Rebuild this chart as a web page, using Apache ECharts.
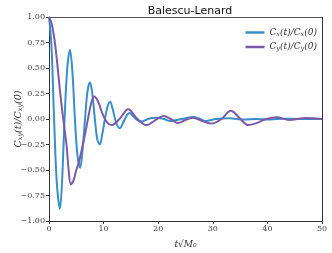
<!DOCTYPE html>
<html><head><meta charset="utf-8">
<script src="https://cdn.jsdelivr.net/npm/echarts@6/dist/echarts.min.js"></script>
<style>html,body{margin:0;padding:0;background:#fff}#c{width:332px;height:253px}</style>
</head><body><div id="c"></div>
<script>
// Data
const tCx = [0,0.45,0.9,1.4,2.0,2.4,2.85,3.35,3.85,4.3,4.75,5.2,5.7,6.15,6.6,7.05,7.5,7.95,8.4,8.85,9.3,9.75,10.25,10.7,11.2,11.65,12.1,12.55,13.0,13.45,13.9,14.35,14.8,15.3,15.9,16.5,17.0,17.9,18.8,19.7,21.0,22.2,23.3,24.4,25.4,26.4,27.5,28.6,30.6,33.1,35.6,38.0,40.5,43.0,46.0,50.0];
const vCx = [1.0,0.72,0.05,-0.6,-0.88,-0.6,0.0,0.5,0.68,0.45,0.0,-0.35,-0.48,-0.3,0.0,0.27,0.36,0.24,0.0,-0.2,-0.25,-0.15,0.0,0.12,0.17,0.1,0.0,-0.07,-0.09,-0.05,0.0,0.045,0.06,0.035,0.0,-0.02,-0.025,-0.005,0.01,0.013,0.0,-0.02,-0.01,0.0,0.012,0.02,0.005,-0.02,0.0,0.007,-0.005,0.0,-0.005,0.003,0.0,0.0];
const tCy = [0,0.5,1.0,1.5,2.0,2.6,3.2,3.6,4.0,4.5,5.0,5.5,6.0,6.6,7.2,7.8,8.3,9.0,9.8,10.6,11.5,12.9,14.5,16.2,17.9,19.5,21.0,22.3,23.6,25.0,26.4,28.1,29.8,31.6,33.3,34.9,36.5,38.0,39.8,41.7,44.0,47.0,50.0];
const vCy = [1.0,0.93,0.78,0.55,0.28,0.0,-0.25,-0.5,-0.64,-0.6,-0.5,-0.42,-0.3,-0.15,0.02,0.17,0.22,0.17,0.05,-0.03,-0.06,0.0,0.095,0.0,-0.06,-0.01,0.03,0.0,-0.04,-0.01,0.013,-0.02,-0.045,0.0,0.08,0.01,-0.06,-0.04,0.0,0.017,-0.01,0.01,0.0];
const xTicks = [0,10,20,30,40,50];
const yTicks = [-1.0,-0.75,-0.5,-0.25,0.0,0.25,0.5,0.75,1.0];

const pair = (t,v) => t.map((x,i)=>[x,v[i]]);
const serif = 'DejaVu Serif';
const sub = {s:{fontFamily:serif, fontStyle:'italic', fontSize:6.5, color:'#333', padding:[3,0,0,0]}};
const chart = echarts.init(document.getElementById('c'), null, {renderer:'canvas'});
chart.setOption({
  animation:false,
  title:{text:'Balescu-Lenard', left:185, top:1, textAlign:'center',
    textStyle:{fontFamily:'DejaVu Sans', fontSize:11, fontWeight:'normal', color:'#111'}},
  grid:{left:49, right:10, top:17, bottom:32, outerBoundsMode:'none', containLabel:false},
  legend:{right:10, top:23, orient:'vertical', itemWidth:19, itemHeight:2.5, itemGap:5, icon:'rect',
    textStyle:{fontFamily:serif, fontStyle:'italic', fontSize:9, color:'#333', rich:sub},
    data:['Cx','Cy'],
    formatter: n => n==='Cx' ? 'C{s|x}(t)/C{s|x}(0)' : 'C{s|y}(t)/C{s|y}(0)'},
  xAxis:{type:'value', min:0, max:50, interval:10,
    name:'t√M₀', nameLocation:'middle', nameGap:19, nameMoveOverlap:false,
    nameTextStyle:{fontFamily:serif, fontStyle:'italic', fontSize:9, color:'#333'},
    axisLine:{onZero:false, lineStyle:{color:'#333', width:1}}, axisTick:{length:3, lineStyle:{color:'#333'}},
    axisLabel:{fontFamily:serif, fontSize:8, color:'#444', margin:4}, splitLine:{show:false}},
  yAxis:{type:'value', min:-1, max:1, interval:0.25,
    name:'C{s|xy}(t)/C{s|xy}(0)', nameLocation:'middle', nameGap:25, nameRotate:90, nameMoveOverlap:false,
    nameTextStyle:{fontFamily:serif, fontStyle:'italic', fontSize:9.5, color:'#333',
      rich:{s:{fontFamily:serif, fontStyle:'italic', fontSize:6.5, color:'#333', padding:[4,0,0,0]}}},
    axisLine:{onZero:false, lineStyle:{color:'#333', width:1}}, axisTick:{length:3, lineStyle:{color:'#333'}},
    axisLabel:{fontFamily:serif, fontSize:8, color:'#444', margin:4,
      formatter: v => (v<0?'−':'') + Math.abs(v).toFixed(2)}, splitLine:{show:false}},
  series:[
    {name:'Cx', type:'line', data:pair(tCx,vCx), showSymbol:false, symbol:'none', smooth:0.35,
      lineStyle:{color:'#3a8fc6', width:2}, itemStyle:{color:'#3a8fc6'}, z:2},
    {name:'Cy', type:'line', data:pair(tCy,vCy), showSymbol:false, symbol:'none', smooth:0.35,
      lineStyle:{color:'#7a5ba7', width:2}, itemStyle:{color:'#7a5ba7'}, z:3}
  ],
  graphic:[
    {type:'line', shape:{x1:49,y1:17.5,x2:322,y2:17.5}, style:{stroke:'#555',lineWidth:1}, silent:true},
    {type:'line', shape:{x1:322.5,y1:17,x2:322.5,y2:221}, style:{stroke:'#333',lineWidth:1}, silent:true}
  ]
});
</script></body></html>
